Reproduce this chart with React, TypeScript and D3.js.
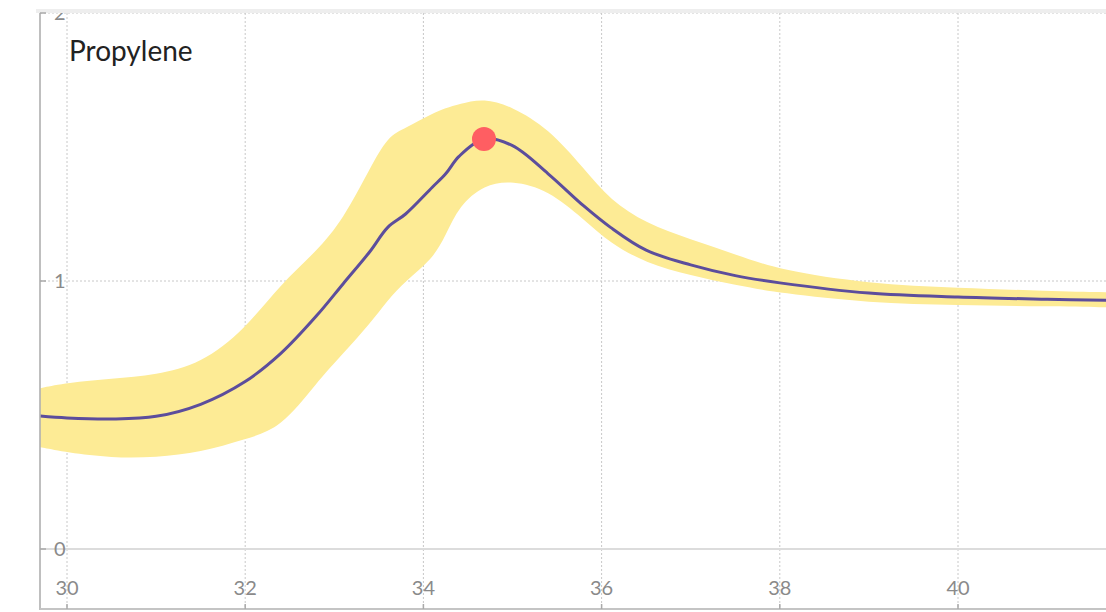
import React, { useEffect, useRef } from "react";
import * as d3 from "d3";

const xs = [29.7, 30, 30.5, 31, 31.5, 32, 32.4, 32.8, 33.1, 33.4, 33.6, 33.8, 34.1, 34.25, 34.4, 34.68, 35, 35.4, 35.8, 36.1, 36.5, 37, 37.5, 38, 39, 40, 41, 41.7];
const meanValues = [0.496, 0.489, 0.485, 0.495, 0.54, 0.625, 0.73, 0.87, 0.99, 1.11, 1.2, 1.25, 1.35, 1.4, 1.465, 1.53, 1.505, 1.4, 1.28, 1.2, 1.115, 1.06, 1.02, 0.993, 0.955, 0.94, 0.932, 0.928];
const upperValues = [0.6, 0.62, 0.635, 0.65, 0.69, 0.82, 0.99, 1.11, 1.23, 1.42, 1.54, 1.57, 1.625, 1.645, 1.66, 1.683, 1.65, 1.57, 1.42, 1.3, 1.215, 1.155, 1.1, 1.04, 0.99, 0.974, 0.963, 0.958];
const lowerValues = [0.38, 0.36, 0.34, 0.342, 0.36, 0.41, 0.45, 0.62, 0.73, 0.84, 0.93, 1.0, 1.08, 1.17, 1.28, 1.36, 1.375, 1.34, 1.23, 1.14, 1.067, 1.02, 0.985, 0.955, 0.918, 0.91, 0.905, 0.902];
const xTicks = [30, 32, 34, 36, 38, 40];
const yTicks = [0, 1, 2];
const peak = { x: 34.68, y: 1.53 };
const title = "Propylene";

export default function App() {
  const ref = useRef<SVGSVGElement | null>(null);
  useEffect(() => {
    const W = 1106;
    const left = 40, top = 13, bottom = 609;
    const svg = d3.select(ref.current);
    svg.selectAll("*").remove();
    const x = d3.scaleLinear().domain([30, 40]).range([67, 958]);
    const y = d3.scaleLinear().domain([0, 2]).range([549, 13]);
    const font = "Lato, 'Open Sans', sans-serif";

    const defs = svg.append("defs");
    defs.append("clipPath").attr("id", "plotclip").append("rect")
      .attr("x", left).attr("y", top).attr("width", W - left).attr("height", bottom - top);

    svg.append("rect").attr("x", 36).attr("y", 9).attr("width", W - 36).attr("height", 4).attr("fill", "#eeeeee");

    const g = svg.append("g").attr("clip-path", "url(#plotclip)");

    g.selectAll("line.vg").data(xTicks).enter().append("line")
      .attr("x1", (d) => x(d)).attr("x2", (d) => x(d))
      .attr("y1", top).attr("y2", bottom)
      .attr("stroke", "#c8c8c8").attr("stroke-width", 1).attr("stroke-dasharray", "2,2");
    g.selectAll("line.hg").data(yTicks.filter((d) => d !== 0)).enter().append("line")
      .attr("x1", left).attr("x2", W)
      .attr("y1", (d) => y(d)).attr("y2", (d) => y(d))
      .attr("stroke", "#c8c8c8").attr("stroke-width", 1).attr("stroke-dasharray", "2,2");
    g.append("line").attr("x1", left).attr("x2", W).attr("y1", y(0)).attr("y2", y(0))
      .attr("stroke", "#dcdcdc").attr("stroke-width", 2);

    const idx = d3.range(xs.length);
    const area = d3.area<number>()
      .x((i) => x(xs[i])).y0((i) => y(lowerValues[i])).y1((i) => y(upperValues[i]))
      .curve(d3.curveBasis);
    g.append("path").attr("d", area(idx) as string).attr("fill", "#fdeb95");

    const line = d3.line<number>().x((i) => x(xs[i])).y((i) => y(meanValues[i])).curve(d3.curveCatmullRom);
    g.append("path").attr("d", line(idx) as string).attr("fill", "none")
      .attr("stroke", "#5c4d9c").attr("stroke-width", 3);

    g.append("circle").attr("cx", x(peak.x)).attr("cy", y(peak.y)).attr("r", 12).attr("fill", "#ff5e62");

    g.selectAll("text.yl").data(yTicks).enter().append("text")
      .attr("x", 54).attr("y", (d) => y(d)).attr("dy", "0.35em")
      .attr("font-family", font).attr("font-size", 20).attr("fill", "#8a8a8a")
      .text((d) => String(d));
    g.selectAll("text.xl").data(xTicks).enter().append("text")
      .attr("x", (d) => x(d)).attr("y", 588).attr("dy", "0.35em").attr("text-anchor", "middle")
      .attr("font-family", font).attr("font-size", 20).attr("fill", "#8a8a8a")
      .text((d) => String(d));

    svg.append("line").attr("x1", left).attr("x2", left).attr("y1", top).attr("y2", bottom + 1)
      .attr("stroke", "#aaa").attr("stroke-width", 1.5);
    svg.append("line").attr("x1", left).attr("x2", W).attr("y1", bottom).attr("y2", bottom)
      .attr("stroke", "#c4c4c4").attr("stroke-width", 2);
    svg.selectAll("line.yt").data(yTicks).enter().append("line")
      .attr("x1", left).attr("x2", left + 6).attr("y1", (d) => y(d)).attr("y2", (d) => y(d))
      .attr("stroke", "#aaa").attr("stroke-width", 1.5);
    svg.selectAll("line.xt").data(xTicks).enter().append("line")
      .attr("x1", (d) => x(d)).attr("x2", (d) => x(d)).attr("y1", bottom - 5).attr("y2", bottom)
      .attr("stroke", "#aaa").attr("stroke-width", 1.5);

    svg.append("text").attr("x", 69).attr("y", 61)
      .attr("font-family", font).attr("font-size", 28).attr("fill", "#222").text(title);
  }, []);
  return (
    <svg ref={ref} width={1106} height={612}
      style={{ position: "absolute", left: 0, top: 0, background: "#fff" }} />
  );
}
